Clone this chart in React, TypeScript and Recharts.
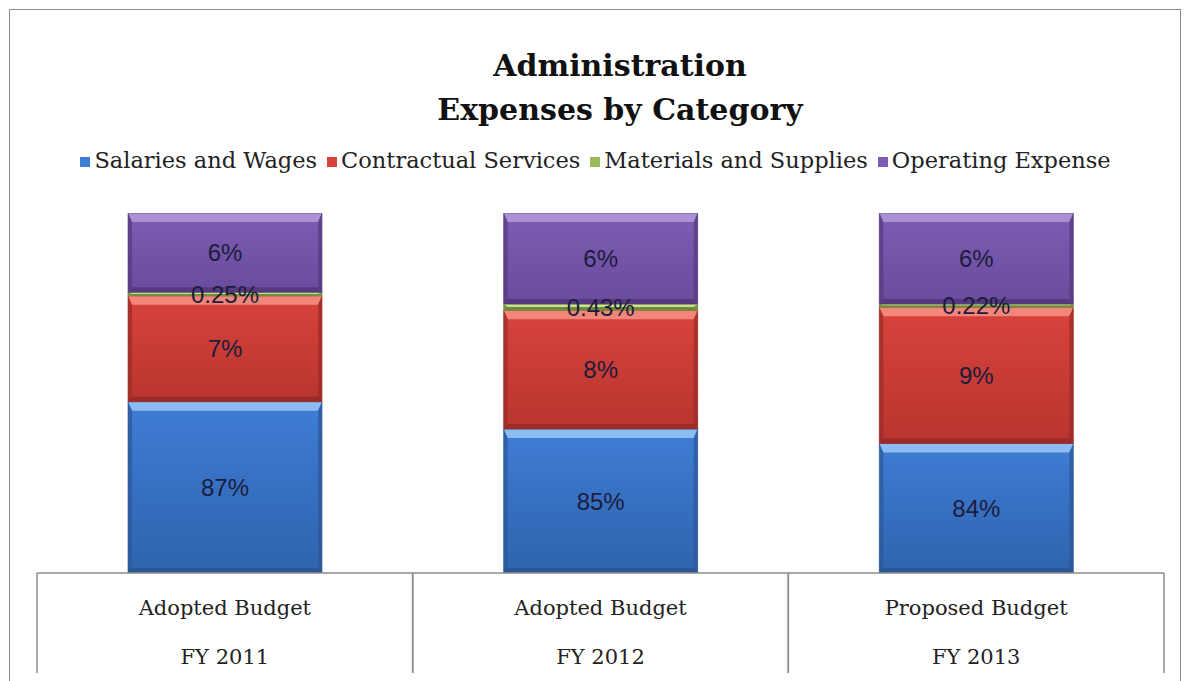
import { BarChart, Bar, XAxis, YAxis, LabelList, Legend } from "recharts";

const budgetTypes = ["Adopted Budget", "Adopted Budget", "Proposed Budget"];
const fiscalYears = ["FY 2011", "FY 2012", "FY 2013"];

// percent of total (axis starts near 75%)
const salaries = [86.9, 85.0, 84.0];
const contractual = [7.35, 8.25, 9.46];
const materials = [0.25, 0.43, 0.22];
const operating = [5.5, 6.32, 6.32];

const data = fiscalYears.map((year, i) => ({
  year,
  salaries: salaries[i],
  contractual: contractual[i],
  materials: materials[i],
  operating: operating[i],
}));

const series = [
  { key: "salaries", name: "Salaries and Wages", base: "#3f7dd5", top: "#2f63ad", light: "#8cbcf2", dark: "#2b5797", decimals: 0 },
  { key: "contractual", name: "Contractual Services", base: "#d8433c", top: "#b8352f", light: "#f3867b", dark: "#9a2b27", decimals: 0 },
  { key: "materials", name: "Materials and Supplies", base: "#9bbb59", top: "#86a548", light: "#c9e38f", dark: "#6f8a3a", decimals: 2 },
  { key: "operating", name: "Operating Expense", base: "#7e5cb4", top: "#6a4b9c", light: "#ab90d6", dark: "#56397f", decimals: 0 },
];

const W = 1191;
const H = 681;
const M = { top: 145, right: 27, bottom: 0, left: 37 };
const BAND = (W - M.left - M.right) / 3;
const SERIF = "'DejaVu Serif', serif";

function BevelBar(props: any) {
  const { x, y, width: w, height: h, s } = props;
  if (!h || h <= 0) return null;
  const t = Math.min(9, h / 2);
  const b = Math.min(5, h / 2);
  const e = Math.min(4, w / 4);
  return (
    <g>
      <rect x={x} y={y} width={w} height={h} fill={`url(#grad-${s.key})`} />
      <polygon points={`${x},${y} ${x + w},${y} ${x + w - e},${y + t} ${x + e},${y + t}`} fill={s.light} />
      <polygon points={`${x},${y} ${x + e},${y + t} ${x + e},${y + h - b} ${x},${y + h}`} fill={s.dark} opacity={0.7} />
      <polygon points={`${x + w},${y} ${x + w - e},${y + t} ${x + w - e},${y + h - b} ${x + w},${y + h}`} fill={s.dark} opacity={0.7} />
      <polygon points={`${x},${y + h} ${x + e},${y + h - b} ${x + w - e},${y + h - b} ${x + w},${y + h}`} fill={s.dark} />
      <rect x={x} y={y} width={w} height={h} fill="none" stroke={s.dark} strokeOpacity={0.6} strokeWidth={1} />
    </g>
  );
}

function CategoryTick(props: any) {
  const { x, y, index } = props;
  return (
    <g>
      <line x1={x - BAND / 2} x2={x - BAND / 2} y1={y} y2={y + 100} stroke="#8c8c8c" strokeWidth={1.5} />
      <line x1={x + BAND / 2} x2={x + BAND / 2} y1={y} y2={y + 100} stroke="#8c8c8c" strokeWidth={1.5} />
      <text x={x} y={y + 42} textAnchor="middle" fontFamily={SERIF} fontSize={21} fill="#222">
        {budgetTypes[index]}
      </text>
      <text x={x} y={y + 91} textAnchor="middle" fontFamily={SERIF} fontSize={21} fill="#222">
        {fiscalYears[index]}
      </text>
    </g>
  );
}

export default function App() {
  return (
    <div style={{ position: "absolute", left: 0, top: 0, width: W, height: H, background: "#fff", overflow: "hidden" }}>
      <div
        style={{
          position: "absolute",
          left: 9,
          top: 9,
          width: 1170,
          height: 680,
          borderTop: "1.5px solid #8c8c8c",
          borderLeft: "1.5px solid #8c8c8c",
          borderRight: "1.5px solid #8c8c8c",
        }}
      />
      <div
        style={{
          position: "absolute",
          left: 320,
          width: 600,
          top: 44,
          textAlign: "center",
          fontFamily: SERIF,
          fontWeight: "bold",
          fontSize: 30,
          lineHeight: "44px",
          color: "#111",
        }}
      >
        Administration
        <br />
        Expenses by Category
      </div>
      <div style={{ position: "absolute", left: 0, top: 0 }}>
        <BarChart width={W} height={H} data={data} margin={M} barSize={194}>
          <defs>
            {series.map((s) => (
              <linearGradient key={s.key} id={`grad-${s.key}`} x1="0" y1="0" x2="0" y2="1">
                <stop offset="0%" stopColor={s.base} />
                <stop offset="100%" stopColor={s.top} />
              </linearGradient>
            ))}
          </defs>
          <Legend
            verticalAlign="top"
            iconType="square"
            iconSize={10}
            itemSorter={(item: any) => series.findIndex((s) => s.key === item.dataKey)}
            wrapperStyle={{ height: 68, fontFamily: SERIF, fontSize: 22.5, lineHeight: "30px" }}
            formatter={(value: string) => <span style={{ color: "#222" }}>{value}</span>}
          />
          <XAxis
            dataKey="year"
            height={108}
            tickLine={false}
            tickSize={0}
            tickMargin={0}
            axisLine={{ stroke: "#8c8c8c", strokeWidth: 1.5 }}
            tick={<CategoryTick />}
            interval={0}
          />
          <YAxis hide domain={[75, 100]} allowDataOverflow type="number" />
          {series.map((s) => (
            <Bar
              key={s.key}
              dataKey={s.key}
              name={s.name}
              stackId="a"
              fill={s.base}
              isAnimationActive={false}
              shape={(p: any) => <BevelBar {...p} s={s} />}
            >
              <LabelList
                dataKey={s.key}
                position="center"
                fontFamily="'Liberation Sans', Arial, sans-serif"
                fontSize={24}
                fill="#1c1c3c"
                formatter={(v: any) =>
                  s.decimals ? `${Number(v).toFixed(2)}%` : `${Math.round(Number(v))}%`
                }
              />
            </Bar>
          ))}
        </BarChart>
      </div>
    </div>
  );
}
